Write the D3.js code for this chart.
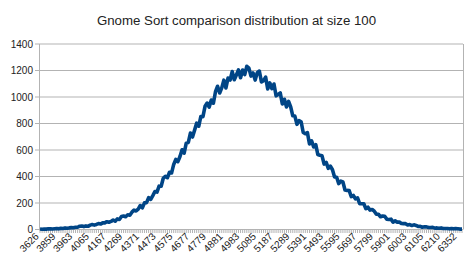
<!DOCTYPE html>
<html>
<head>
<meta charset="utf-8">
<script src="https://cdn.jsdelivr.net/npm/d3@7"></script>
<style>
  body { margin: 0; background: #fff; }
  text { font-family: "Liberation Sans", Arial, sans-serif; fill: #222; }
</style>
</head>
<body>
<div id="canvas"></div>
<script>
"use strict"

/* Chart text */
let chartTitle = "Gnome Sort comparison distribution at size 100";

/* Category labels shown along the x axis (one every 8 data slots) */
let xLabels = ["3626", "3859", "3963", "4065", "4167", "4269", "4371", "4473", "4575",
    "4677", "4779", "4881", "4983", "5085", "5187", "5289", "5391", "5493", "5595",
    "5697", "5799", "5901", "6003", "6105", "6210", "6352"];
let slotsPerLabel = 8;

/* y axis ticks */
let yTicks = [0, 200, 400, 600, 800, 1000, 1200, 1400];

/* number of occurrences per comparison count */
let occurrences = [
    4, 2, 3, 3, 5, 6, 4, 6, 8, 5, 9, 8, 12, 9, 12, 14, 13, 17, 17, 25,
    26, 22, 27, 24, 33, 37, 33, 38, 45, 41, 50, 50, 59, 55, 61, 72, 63, 80, 76, 98,
    102, 96, 111, 108, 131, 146, 140, 154, 181, 163, 201, 203, 240, 227, 256, 287, 282, 327, 326, 387,
    402, 391, 432, 427, 491, 529, 512, 551, 602, 576, 652, 657, 728, 698, 750, 803, 780, 853, 852, 930,
    954, 924, 977, 953, 1040, 1081, 1030, 1069, 1127, 1068, 1143, 1128, 1192, 1130, 1166, 1205, 1145, 1204, 1169, 1232,
    1218, 1158, 1182, 1128, 1184, 1196, 1114, 1123, 1150, 1061, 1106, 1063, 1098, 1009, 1019, 1031, 948, 983, 925, 967,
    926, 858, 856, 794, 821, 813, 732, 723, 731, 645, 669, 623, 641, 566, 560, 556, 494, 506, 461, 479,
    451, 397, 394, 346, 365, 359, 298, 295, 294, 248, 257, 231, 238, 195, 194, 194, 157, 168, 146, 151,
    138, 116, 115, 96, 102, 100, 78, 75, 78, 56, 65, 56, 56, 45, 44, 44, 34, 37, 30, 35,
    31, 23, 24, 17, 20, 20, 15, 15, 16, 10, 12, 9, 12, 7, 8, 8, 5, 7, 5, 7,
    6, 3, 3
];

/* Configuration variables: drawing */
let svgWidth = 474;
let svgHeight = 267;
let plotLeft = 39;
let plotRight = 463;
let plotTop = 44;
let plotBottom = 229.5;
let gridColor = "#b3b3b3";
let lineColor = "#004586";

let svg = d3.select("#canvas")
    .append("svg")
    .attr("width", svgWidth)
    .attr("height", svgHeight);

let x = d3.scaleLinear()
    .domain([0, occurrences.length - 1])
    .range([plotLeft + 1, plotRight - 1]);

let y = d3.scaleLinear()
    .domain([0, 1400])
    .range([plotBottom, plotTop]);

/* title */
svg.append("text")
    .attr("x", 236.5)
    .attr("y", 25)
    .attr("text-anchor", "middle")
    .style("font-size", "13.25px")
    .text(chartTitle);

/* horizontal grid lines + y tick marks */
svg.selectAll(".grid")
    .data(yTicks)
    .join("line")
    .attr("class", "grid")
    .attr("x1", plotLeft - 4)
    .attr("x2", plotRight)
    .attr("y1", d => y(d))
    .attr("y2", d => y(d))
    .attr("stroke", gridColor)
    .attr("stroke-width", 1);

/* y labels */
svg.selectAll(".ylabel")
    .data(yTicks)
    .join("text")
    .attr("class", "ylabel")
    .attr("x", plotLeft - 6)
    .attr("y", d => y(d))
    .attr("dy", "0.35em")
    .attr("text-anchor", "end")
    .style("font-size", "10px")
    .text(d => d);

/* left axis and right edge */
svg.append("line")
    .attr("x1", plotLeft + 0.5).attr("x2", plotLeft + 0.5)
    .attr("y1", plotTop).attr("y2", plotBottom)
    .attr("stroke", gridColor);
svg.append("line")
    .attr("x1", plotRight + 0.5).attr("x2", plotRight + 0.5)
    .attr("y1", plotTop).attr("y2", plotBottom)
    .attr("stroke", gridColor);

/* dense category tick marks */
svg.selectAll(".xtick")
    .data(d3.range(occurrences.length))
    .join("line")
    .attr("class", "xtick")
    .attr("x1", d => x(d))
    .attr("x2", d => x(d))
    .attr("y1", plotBottom)
    .attr("y2", plotBottom + 3.5)
    .attr("stroke", gridColor)
    .attr("stroke-width", 1);

/* x labels, rotated */
svg.selectAll(".xlabel")
    .data(xLabels)
    .join("text")
    .attr("class", "xlabel")
    .attr("transform", (d, i) => "translate(" + (x(i * slotsPerLabel) - 3) + "," + (plotBottom + 5) + ") rotate(-45)")
    .attr("text-anchor", "end")
    .attr("dy", "0.35em")
    .style("font-size", "10px")
    .text(d => d);

/* the distribution line */
let line = d3.line()
    .x((d, i) => x(i))
    .y(d => y(d));

svg.append("path")
    .datum(occurrences)
    .attr("d", line)
    .attr("fill", "none")
    .attr("stroke", lineColor)
    .attr("stroke-width", 3.6)
    .attr("stroke-linejoin", "round");
</script>
</body>
</html>
